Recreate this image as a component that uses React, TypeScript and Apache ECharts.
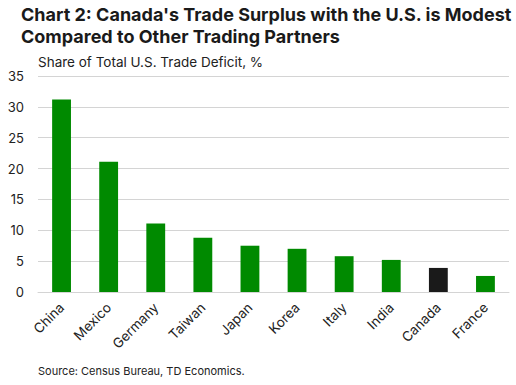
import React, { useEffect, useRef } from "react";
import * as echarts from "echarts";

const categories = ["China", "Mexico", "Germany", "Taiwan", "Japan", "Korea", "Italy", "India", "Canada", "France"];
const shares = [31.2, 21.1, 11.1, 8.8, 7.5, 7.0, 5.8, 5.2, 3.9, 2.6];
const highlight = "Canada";
const yTicks = { min: 0, max: 35, interval: 5 };

const titleLines = ["Chart 2: Canada's Trade Surplus with the U.S. is Modest", "Compared to Other Trading Partners"];
const subtitle = "Share of Total U.S. Trade Deficit, %";
const source = "Source: Census Bureau, TD Economics.";

const GREEN = "#008a00";
const DARK = "#1a1a1a";
const FONT = "Inter, 'Noto Sans', sans-serif";

export default function App() {
  const ref = useRef<HTMLDivElement>(null);
  useEffect(() => {
    if (!ref.current) return;
    const chart = echarts.init(ref.current, undefined, { renderer: "svg" });
    chart.setOption({
      animation: false,
      backgroundColor: "#ffffff",
      textStyle: { fontFamily: FONT },
      title: [
        {
          text: titleLines.join("\n"),
          left: 21,
          top: 3,
          padding: 0,
          textStyle: { fontFamily: FONT, fontSize: 18, fontWeight: "bold", color: DARK, lineHeight: 22 },
        },
        {
          text: subtitle,
          left: 38,
          top: 55,
          padding: 0,
          textStyle: { fontFamily: FONT, fontSize: 13.5, fontWeight: "normal", color: "#222" },
        },
        {
          text: source,
          left: 38,
          top: 365,
          padding: 0,
          textStyle: { fontFamily: FONT, fontSize: 11, fontWeight: "normal", color: "#222" },
        },
      ],
      grid: { left: 38, right: 7, top: 76, bottom: 93, containLabel: false },
      xAxis: {
        type: "category",
        data: categories,
        axisLine: { show: true, lineStyle: { color: "#d4d4d4", width: 1 } },
        axisTick: { show: false },
        axisLabel: { rotate: 45, fontSize: 13.5, color: "#222", margin: 13, interval: 0, fontFamily: FONT },
      },
      yAxis: {
        type: "value",
        min: yTicks.min,
        max: yTicks.max,
        interval: yTicks.interval,
        axisLine: { show: false },
        axisTick: { show: false },
        axisLabel: { fontSize: 13, color: "#222", margin: 14, fontFamily: FONT },
        splitLine: { lineStyle: { color: "#d4d4d4", width: 1 } },
      },
      series: [
        {
          type: "bar",
          barWidth: "40%",
          data: shares.map((v, i) => ({
            value: v,
            itemStyle: { color: categories[i] === highlight ? DARK : GREEN },
          })),
        },
      ],
    });
    return () => chart.dispose();
  }, []);
  return <div ref={ref} style={{ width: 516, height: 385, position: "absolute", left: 0, top: 0 }} />;
}
